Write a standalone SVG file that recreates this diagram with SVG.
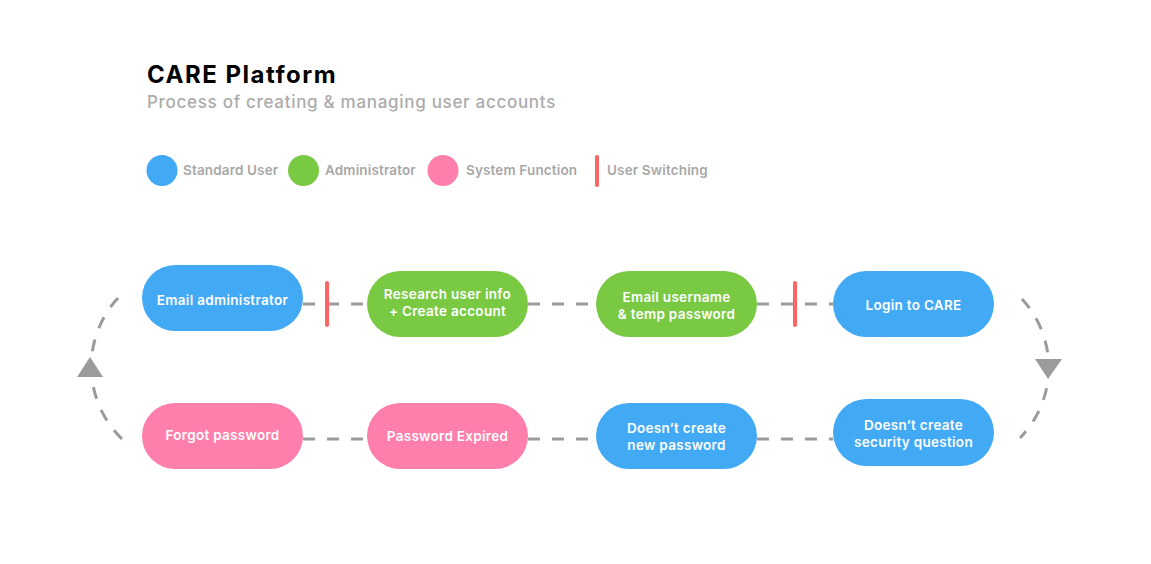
<svg xmlns="http://www.w3.org/2000/svg" width="1151" height="564" viewBox="0 0 1151 564">
<style>
  .t { font-family: Inter, "Noto Sans", "DejaVu Sans", sans-serif; }
  .title { font-size: 24px; font-weight: 700; fill: #000; letter-spacing: 1.5px; }
  .sub { font-size: 17px; font-weight: 500; fill: #ababab; letter-spacing: 0.7px; }
  .leg { font-size: 13.5px; font-weight: 600; fill: #a8a8a8; letter-spacing: 0.15px; }
  .lbl { font-size: 13.5px; font-weight: 600; fill: #fff; text-anchor: middle; letter-spacing: 0.3px; }
  .blue { fill: #42a9f5; }
  .green { fill: #7ac943; }
  .pink { fill: #fe7eac; }
  .dash { stroke: #9b9b9b; stroke-width: 3; fill: none; stroke-dasharray: 12 12; }
  .sw { stroke: #ff6565; stroke-width: 4; stroke-linecap: round; }
  .arr { fill: #9b9b9b; }
</style>
<rect width="1151" height="564" fill="#fff"/>
<g id="header" class="t">
  <text class="title" x="147" y="83">CARE Platform</text>
  <text class="sub" x="147" y="108">Process of creating &amp; managing user accounts</text>
</g>
<g id="legend" class="t">
  <circle class="blue" cx="162" cy="170.5" r="15.5"/>
  <text class="leg" x="183" y="175">Standard User</text>
  <circle class="green" cx="303.5" cy="170.5" r="15.5"/>
  <text class="leg" x="325" y="175">Administrator</text>
  <circle class="pink" cx="443" cy="170.5" r="15.5"/>
  <text class="leg" x="466" y="175">System Function</text>
  <line class="sw" x1="597" y1="157" x2="597" y2="185"/>
  <text class="leg" x="607" y="175">User Switching</text>
</g>
<g id="connectors">
  <line class="dash" x1="303" y1="304" x2="367" y2="304"/>
  <line class="dash" x1="528" y1="304" x2="596" y2="304"/>
  <line class="dash" x1="757" y1="304" x2="833" y2="304"/>
  <line class="dash" x1="303" y1="439" x2="367" y2="439"/>
  <line class="dash" x1="528" y1="439" x2="596" y2="439"/>
  <line class="dash" x1="757" y1="439" x2="833" y2="439"/>
  <path class="dash" d="M 1022 299 A 101 101 0 0 1 1020 438"/>
  <path class="dash" d="M 122 439 A 101 101 0 0 1 118 298"/>
  <polygon class="arr" points="77,377 103,377 90,357"/>
  <polygon class="arr" points="1035,359 1062,359 1048,379"/>
  <line class="sw" x1="327" y1="283" x2="327" y2="325"/>
  <line class="sw" x1="795" y1="283" x2="795" y2="325"/>
</g>
<g id="n1" class="t">
  <rect class="blue" x="142" y="265" width="161" height="66" rx="33"/>
  <text class="lbl" x="222.5" y="305">Email administrator</text>
</g>
<g id="n2" class="t">
  <rect class="green" x="367" y="271" width="161" height="66" rx="33"/>
  <text class="lbl" x="447.5" y="298.5">Research user info</text>
  <text class="lbl" x="447.5" y="316">+ Create account</text>
</g>
<g id="n3" class="t">
  <rect class="green" x="596" y="271" width="161" height="66" rx="33"/>
  <text class="lbl" x="676.5" y="302">Email username</text>
  <text class="lbl" x="676.5" y="319">&amp; temp password</text>
</g>
<g id="n4" class="t">
  <rect class="blue" x="833" y="271" width="161" height="66" rx="33"/>
  <text class="lbl" x="913.5" y="309.5">Login to CARE</text>
</g>
<g id="n5" class="t">
  <rect class="pink" x="142" y="403" width="161" height="66" rx="33"/>
  <text class="lbl" x="222.5" y="439.5">Forgot password</text>
</g>
<g id="n6" class="t">
  <rect class="pink" x="367" y="403" width="161" height="66" rx="33"/>
  <text class="lbl" x="447.5" y="441">Password Expired</text>
</g>
<g id="n7" class="t">
  <rect class="blue" x="596" y="403" width="161" height="66" rx="33"/>
  <text class="lbl" x="676.5" y="433">Doesn’t create</text>
  <text class="lbl" x="676.5" y="450">new password</text>
</g>
<g id="n8" class="t">
  <rect class="blue" x="833" y="399" width="161" height="67" rx="33.5"/>
  <text class="lbl" x="913.5" y="429.5">Doesn’t create</text>
  <text class="lbl" x="913.5" y="447">security question</text>
</g>
</svg>
